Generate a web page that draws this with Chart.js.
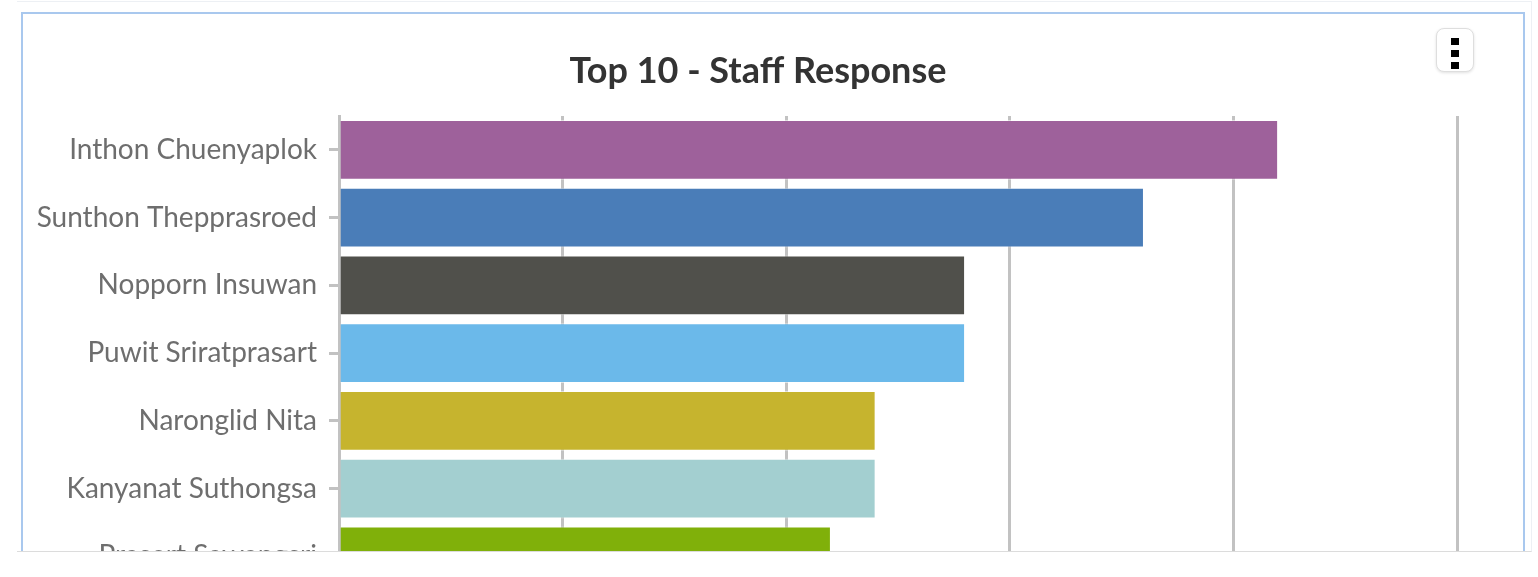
<!DOCTYPE html>
<html>
<head>
<meta charset="utf-8">
<title>Top 10 - Staff Response</title>
<script src="https://cdn.jsdelivr.net/npm/chart.js@4.4.1/dist/chart.umd.min.js"></script>
<style>
  html, body { margin: 0; padding: 0; background: #fff; overflow: hidden; }
  #panel {
    position: absolute; left: 17px; top: 1px; width: 1514px; height: 549px;
    border-top: 1px solid #edf0f4; border-right: 1px solid #edf0f4;
    border-bottom: 1px solid #dcdcdc; overflow: hidden;
  }
  #card {
    position: absolute; left: 4px; top: 10px; width: 1500px; height: 700px;
    border: 2px solid #a9c8ee; background: #fff;
  }
  #chartBox { position: absolute; left: 0; top: 0; }
  #menuBtn {
    position: absolute; left: 1413px; top: 14px; width: 36px; height: 42px;
    border: 1px solid #dedede; border-radius: 8px; background: #fff;
    box-shadow: 0 1px 3px rgba(0,0,0,0.12);
  }
  #menuBtn span {
    position: absolute; left: 14px; width: 8px; height: 7px; background: #000;
  }
</style>
</head>
<body>
<div id="panel">
  <div id="card">
    <div id="chartBox"><canvas id="staffChart" width="1470" height="605"></canvas></div>
    <div id="menuBtn"><span style="top:9px"></span><span style="top:21px"></span><span style="top:33px"></span></div>
  </div>
</div>
<script>
// staff names, top to bottom (the rest of the top 10 is cut off in the picture)
const staffNames = ['Inthon Chuenyaplok', 'Sunthon Thepprasroed', 'Nopporn Insuwan', 'Puwit Sriratprasart',
  'Naronglid Nita', 'Kanyanat Suthongsa', 'Prasert Sawangsri'];
const responses = [21, 18, 14, 14, 12, 12, 11];
const barColors = ['#9e619b', '#4a7db8', '#50504b', '#6bb9ea', '#c6b42e', '#a3cfd0', '#80b00a'];
const xMax = 25;
const xStep = 5;

// title sits centred on the whole card, not on the padded chart box
const centerTitle = {
  id: 'centerTitle',
  afterDraw(chart) {
    const c = chart.ctx;
    c.save();
    c.font = 'bold 36px Lato';
    c.fillStyle = '#333';
    c.textAlign = 'center';
    c.textBaseline = 'middle';
    c.fillText('Top 10 - Staff Response', chart.width / 2, 57);
    c.restore();
  }
};

const ctx = document.getElementById('staffChart').getContext('2d');
new Chart(ctx, {
  type: 'bar',
  data: {
    labels: staffNames,
    datasets: [{
      label: 'Responses',
      data: responses,
      backgroundColor: barColors,
      borderColor: 'rgba(255,255,255,0.55)',
      borderWidth: 1,
      categoryPercentage: 1,
      barPercentage: 0.88
    }]
  },
  options: {
    indexAxis: 'y',
    responsive: false,
    devicePixelRatio: 1,
    animation: false,
    layout: { padding: { left: 0, right: 36, top: 102, bottom: 0 } },
    plugins: {
      legend: { display: false },
      tooltip: { enabled: false },
      title: { display: false }
    },
    scales: {
      x: {
        min: 0,
        max: xMax,
        ticks: { stepSize: xStep, display: false },
        grid: { color: '#c2c2c2', lineWidth: 3, drawTicks: false },
        border: { display: false }
      },
      y: {
        afterFit: (scale) => { scale.width = 316; },
        ticks: {
          color: '#6e6e6e',
          padding: 12,
          font: { family: 'Lato', size: 28 }
        },
        grid: { offset: false, drawOnChartArea: false, drawTicks: true, tickLength: 10, color: '#c2c2c2', lineWidth: 3 },
        border: { display: true, color: '#c2c2c2', width: 3 }
      }
    }
  },
  plugins: [centerTitle]
});
</script>
</body>
</html>
